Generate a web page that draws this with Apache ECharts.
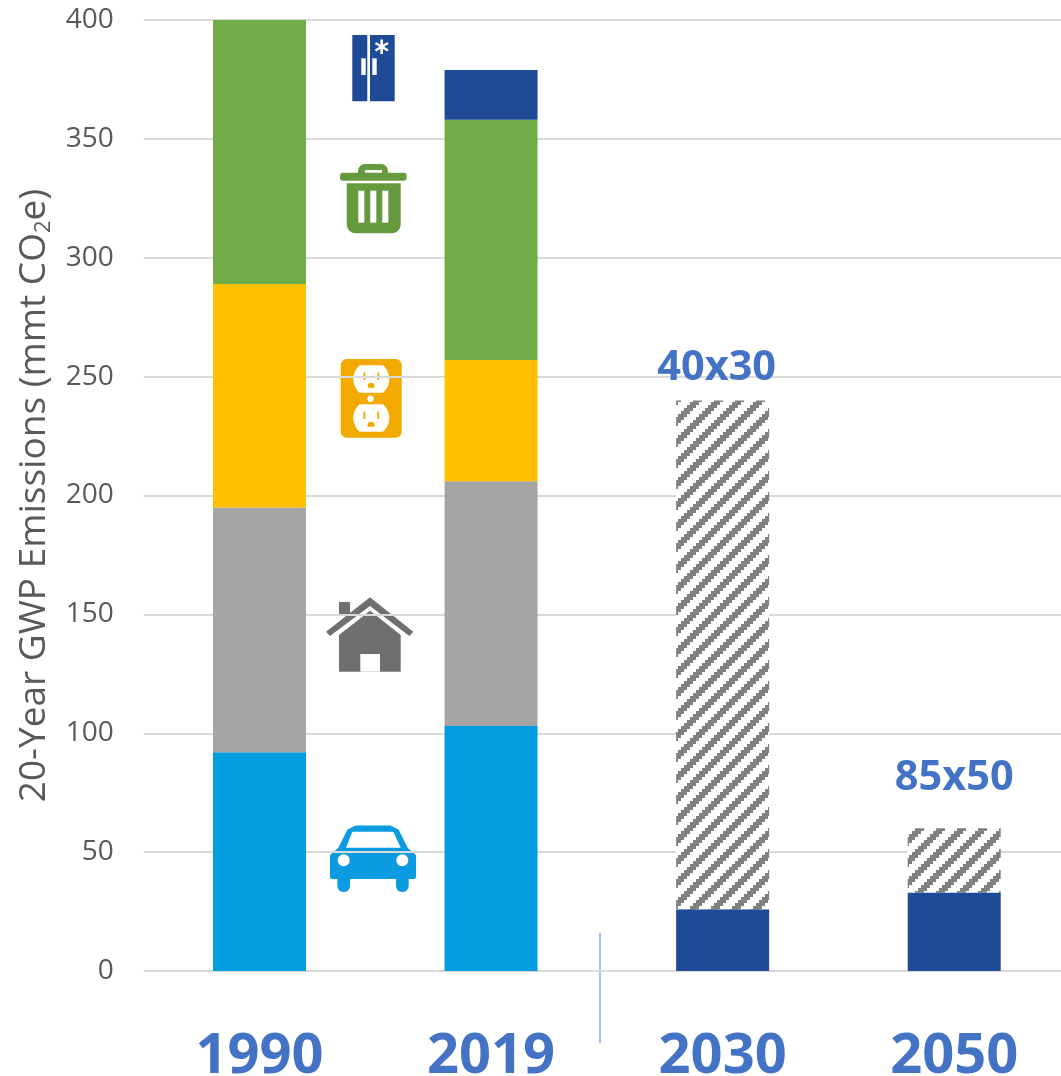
<!DOCTYPE html>
<html>
<head>
<meta charset="utf-8">
<script src="https://cdn.jsdelivr.net/npm/echarts@6/dist/echarts.min.js"></script>
<style>
  html, body { margin: 0; padding: 0; background: #fff; }
  #chart { width: 1061px; height: 1076px; }
</style>
</head>
<body>
<div id="chart"></div>
<script>
var years = ['1990', '2019', '2030', '2050']
var yTicks = [0, 50, 100, 150, 200, 250, 300, 350, 400]
var transport = [92, 103, null, null]
var buildings = [103, 103, null, null]
var electricity = [94, 51, null, null]
var waste = [111, 101, null, null]
var refrigerants = [null, 21, null, null]
var remaining = [null, null, 26, 33]
var reduction = [null, null, 214, 27]
var targetLabels = ['', '', '40x30', '85x50']

var font = '"Open Sans", sans-serif'
var blueText = '#4472C4'

// the labels above the target bars do not sit at the same height
var labelOffsets = [[0, 0], [0, 0], [-6, -5], [0, -23]]

// stepped diagonal hatching for the target bars, 3px blocks
function hatchTile() {
    var size = 21
    var c = document.createElement('canvas')
    c.width = size
    c.height = size
    var ctx = c.getContext('2d')
    ctx.fillStyle = '#fff'
    ctx.fillRect(0, 0, size, size)
    ctx.fillStyle = '#808080'
    for (var i = 0; i < 7; i++) {
        for (var j = 0; j < 7; j++) {
            if ((i + j) % 7 < 3) ctx.fillRect(i * 3, j * 3, 3, 3)
        }
    }
    return c
}

function rect(x, y, w, h, fill, r) {
    return { type: 'rect', shape: { x: x, y: y, width: w, height: h, r: r || 0 }, style: { fill: fill } }
}
function poly(points, fill) {
    return { type: 'polygon', shape: { points: points }, style: { fill: fill } }
}
function circle(cx, cy, r, fill) {
    return { type: 'circle', shape: { cx: cx, cy: cy, r: r }, style: { fill: fill } }
}
function line(x1, y1, x2, y2, stroke, width) {
    return { type: 'line', shape: { x1: x1, y1: y1, x2: x2, y2: y2 }, style: { stroke: stroke, lineWidth: width } }
}

function fridgeIcon() {
    var navy = '#1F4A96'
    return [
        rect(352.3, 35, 15, 66.3, navy),
        rect(370, 35, 24.7, 66.3, navy),
        rect(361.3, 58.3, 4.4, 16.7, '#fff'),
        rect(372.3, 58.3, 4.4, 16.7, '#fff'),
        line(381.7, 39.5, 381.7, 54, '#fff', 2.6),
        line(375.5, 43, 388, 50.5, '#fff', 2.6),
        line(375.5, 50.5, 388, 43, '#fff', 2.6)
    ]
}

function trashIcon() {
    var green = '#669A3E'
    return [
        rect(358, 164, 30, 14, green, [7, 7, 0, 0]),
        rect(365, 170, 17, 3, '#fff'),
        rect(340, 172.7, 66.7, 8, green, 3),
        rect(346.7, 183.3, 54, 50, green, [0, 0, 9, 9]),
        rect(358.3, 190.7, 6, 32, '#fff'),
        rect(370.3, 190.7, 6, 32, '#fff'),
        rect(382.3, 190.7, 6, 32, '#fff')
    ]
}

// outlet socket: a circle with flat top and bottom
function socketShape(cy) {
    var pts = []
    var r = 18
    var flat = 13.7
    var start = Math.asin(flat / r)
    for (var i = 0; i <= 12; i++) {
        var a = -start + (2 * start) * i / 12
        pts.push([371.3 + r * Math.cos(a), cy + r * Math.sin(a)])
    }
    for (var j = 0; j <= 12; j++) {
        var b = Math.PI - start + (2 * start) * j / 12
        pts.push([371.3 + r * Math.cos(b), cy + r * Math.sin(b)])
    }
    return pts
}

function socket(cy, orange) {
    return [
        poly(socketShape(cy), '#fff'),
        rect(363.5, cy - 6.5, 1.8, 7.5, orange),
        rect(377.3, cy - 6.5, 1.8, 7.5, orange),
        rect(367.7, cy + 3.7, 6.8, 5, orange, [3.4, 3.4, 0, 0])
    ]
}

function outletIcon() {
    var orange = '#F2A900'
    return [rect(337, 355, 69, 85, '#fff'), rect(340.7, 359, 61, 78.7, orange, 6)]
        .concat(socket(379, orange), socket(418, orange))
        .concat([circle(370.5, 398.7, 3.2, '#fff')])
}

function houseIcon() {
    var gray = '#6F6F6F'
    return [
        rect(339, 602, 11, 14, gray),
        poly([[370, 597.3], [413.3, 631.7], [409.3, 636], [370, 606], [330, 636], [326, 631.7]], gray),
        poly([[370, 610.7], [400.7, 635], [400.7, 671.7], [339, 671.7], [339, 635]], gray),
        rect(360.3, 654, 19.7, 17.7, '#fff')
    ]
}

function carIcon() {
    var blue = '#0A9BE0'
    var body = poly([[356, 827.5], [390, 827.5], [397, 831], [406, 849], [414, 856], [414, 877], [332, 877], [332, 856], [340, 849], [349, 831]], blue)
    body.style.stroke = blue
    body.style.lineWidth = 4
    body.style.lineJoin = 'round'
    return [
        rect(337.3, 870, 12.7, 22, blue, 6),
        rect(396, 870, 12.7, 22, blue, 6),
        body,
        poly([[352.3, 831.7], [393.3, 831.7], [400.7, 847.7], [346, 847.7]], '#fff'),
        circle(343.7, 860.3, 6, '#fff'),
        circle(402.3, 860.3, 6, '#fff')
    ]
}

function stackSeries(name, data, color) {
    return {
        name: name,
        type: 'bar',
        stack: 'total',
        barWidth: 93,
        data: data,
        itemStyle: { color: color }
    }
}

var chart = echarts.init(document.getElementById('chart'))

var series = [
    stackSeries('Transportation', transport, '#009DDF'),
    stackSeries('Buildings', buildings, '#A5A5A5'),
    stackSeries('Electricity', electricity, '#FFC000'),
    stackSeries('Waste', waste, '#70AD47'),
    stackSeries('Refrigerants', refrigerants, '#1F4A96'),
    stackSeries('Remaining', remaining, '#1F4A96'),
    stackSeries('Reduction', reduction.map(function(v, i) {
        return { value: v, label: { offset: labelOffsets[i] } }
    }), { image: hatchTile(), repeat: 'repeat' })
]
series[6].label = {
    show: true,
    position: 'top',
    distance: 6,
    fontFamily: font,
    fontWeight: 'bold',
    fontSize: 41.5,
    color: blueText,
    formatter: function(p) { return targetLabels[p.dataIndex] }
}

chart.setOption({
    animation: false,
    backgroundColor: '#fff',
    grid: { left: 143.7, right: -9, top: 20, bottom: 105, outerBoundsMode: 'none' },
    xAxis: {
        type: 'category',
        data: years,
        axisLine: { show: false },
        axisTick: { show: false },
        axisLabel: {
            margin: 58,
            fontFamily: font,
            fontWeight: 'bold',
            fontSize: 56,
            color: blueText
        }
    },
    yAxis: {
        type: 'value',
        min: yTicks[0],
        max: yTicks[yTicks.length - 1],
        interval: 50,
        name: '20-Year GWP Emissions (mmt CO{sub|2}e)',
        nameLocation: 'middle',
        nameGap: 89,
        nameRotate: 90,
        nameTextStyle: {
            fontFamily: font,
            fontSize: 37,
            color: '#595959',
            rich: {
                sub: { fontFamily: font, fontSize: 22, color: '#595959', verticalAlign: 'bottom', lineHeight: 40, padding: [22, 0, 0, 0] }
            }
        },
        axisLine: { show: false },
        axisTick: { show: false },
        axisLabel: { margin: 30, fontFamily: font, fontSize: 28, color: '#595959' },
        splitLine: { lineStyle: { color: '#D9D9D9', width: 2 } }
    },
    series: series,
    graphic: [
        line(600, 933, 600, 1043, '#7FB2E0', 1.5)
    ].concat(fridgeIcon(), trashIcon(), outletIcon(), houseIcon(), carIcon())
})
</script>
</body>
</html>
